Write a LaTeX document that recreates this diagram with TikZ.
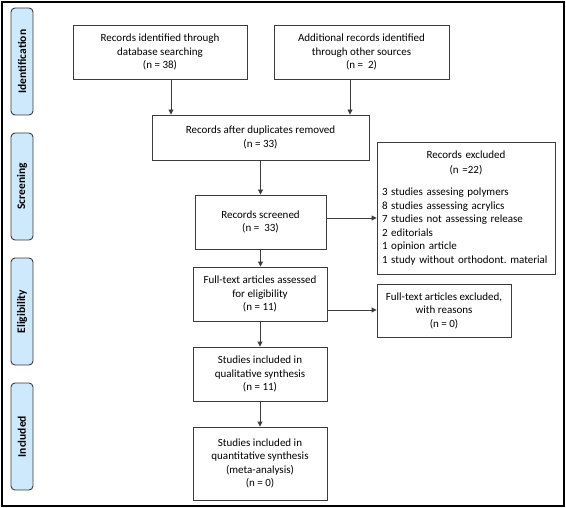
\documentclass[tikz,border=0pt]{standalone}
\usepackage{fontspec}
\setmainfont{Carlito}
\frenchspacing
\usetikzlibrary{arrows.meta}
\definecolor{lblue}{RGB}{206,232,252}
\definecolor{edge}{RGB}{60,60,60}
\tikzset{
  box/.style={draw=edge, line width=0.9bp, inner sep=0pt, align=center,
    font=\fontsize{11bp}{13.5bp}\selectfont},
  phase/.style={draw=edge, line width=0.9bp, fill=lblue, rounded corners=4bp,
    rotate=90, minimum width=107bp, minimum height=22bp, inner sep=0pt,
    font=\fontsize{11.5bp}{13bp}\selectfont\bfseries},
  arr/.style={draw=edge, line width=0.9bp, -{Triangle[length=5bp,width=5bp]}}
}
\begin{document}
\begin{tikzpicture}[x=1bp,y=-1bp]
\useasboundingbox (0,0) rectangle (566,508);
\draw[line width=2bp, black] (2,2) rectangle (563.5,506);

% phase labels
\node[phase] (pid) at (22,61.5) {Identification};
\node[phase] (psc) at (22,186.5) {Screening};
\node[phase] (pel) at (22,311.5) {Eligibility};
\node[phase] (pin) at (22,436.5) {Included};

% boxes
\node[box, minimum width=174bp, minimum height=54bp] (b1) at (160,52)
  {Records identified through\\database searching\\(n = 38)};
\node[box, minimum width=175bp, minimum height=54bp] (b2) at (361.5,52)
  {Additional records identified\\through other sources\\(n =\ \ 2)};
\node[box, minimum width=217bp, minimum height=45bp] (b3) at (260.5,137.5)
  {Records after duplicates removed\\(n = 33)};
\node[box, minimum width=131bp, minimum height=54bp] (b4) at (260.5,222)
  {Records screened\\(n =\ \ 33)};
\node[box, minimum width=178bp, minimum height=132bp, text width=168bp, align=left] (ex) at (466,208)
  {\centering Records excluded\\[1.5bp](n =22)\par\vspace{9bp}\raggedright
   3 studies assesing polymers\\
   8 studies assessing acrylics\\
   7 studies not assessing release\\
   2 editorials\\
   1 opinion article\\
   1 study without orthodont. material\par\vspace{4bp}};
\node[box, minimum width=134bp, minimum height=54bp] (b5) at (260,294)
  {Full-text articles assessed\\for eligibility\\(n = 11)};
\node[box, minimum width=134bp, minimum height=53bp] (fx) at (444,310.5)
  {Full-text articles excluded,\\with reasons\\(n = 0)};
\node[box, minimum width=134bp, minimum height=54bp] (b6) at (260,374)
  {Studies included in\\qualitative synthesis\\(n = 11)};
\node[box, minimum width=134bp, minimum height=73bp] (b7) at (260,463.5)
  {Studies included in\\quantitative synthesis\\(meta-analysis)\\(n = 0)};

% connectors
\draw[arr] ([xshift=11bp]b1.south) -- ([xshift=11bp]b1.south |- b3.north);
\draw[arr] ([xshift=-11.5bp]b2.south) -- ([xshift=-11.5bp]b2.south |- b3.north);
\draw[arr] (b3.south) -- (b3.south |- b4.north);
\draw[arr] ([yshift=4bp]b4.east) -- ([yshift=4bp]b4.east -| ex.west);
\draw[arr] (b4.south) -- (b4.south |- b5.north);
\draw[arr] ([yshift=-16bp]b5.east) -- ([yshift=-16bp]b5.east -| fx.west);
\draw[arr] (b5.south) -- (b5.south |- b6.north);
\draw[arr] (b6.south) -- (b6.south |- b7.north);
\end{tikzpicture}
\end{document}
